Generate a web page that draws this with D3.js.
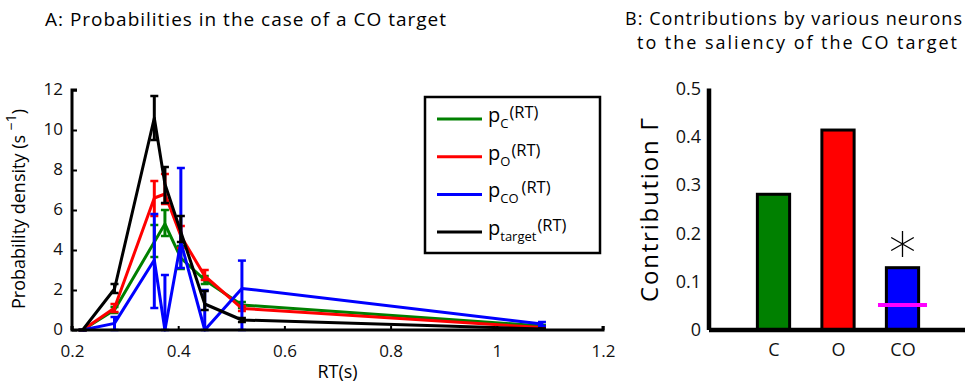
<!DOCTYPE html>
<html>
<head>
<meta charset="utf-8">
<script src="https://cdn.jsdelivr.net/npm/d3@7/dist/d3.min.js"></script>
<style>
  body { margin: 0; background: #fff; }
  svg { display: block; font-family: "Open Sans", "DejaVu Sans", sans-serif; }
</style>
</head>
<body>
<svg id="chart" width="965" height="385"></svg>
<script>
// ---------- Data: panel A ----------
const rt = [0.22, 0.28, 0.355, 0.375, 0.405, 0.45, 0.52, 1.085];

const pC    = [0, 1.0, 4.4, 5.3, 3.6, 2.5, 1.25, 0.2];
const pC_lo = [0, 0.85, 3.65, 4.7, 3.05, 2.3, 1.1, 0.15];
const pC_hi = [0, 1.15, 5.25, 6.0, 4.2, 2.7, 1.4, 0.25];

const pO    = [0, 1.1, 6.6, 6.8, 4.7, 2.7, 1.08, 0.12];
const pO_lo = [0, 0.9, 5.7, 6.3, 4.1, 2.5, 0.95, 0.08];
const pO_hi = [0, 1.3, 7.45, 7.8, 5.2, 3.0, 1.2, 0.16];

const pCO    = [0, 0.33, 3.5, 0, 4.4, 0, 2.08, 0.3];
const pCO_lo = [0, 0, 1.1, 0, 3.1, 0, 0, 0.2];
const pCO_hi = [0, 0.65, 5.8, 2.75, 8.1, 2.0, 3.47, 0.4];

const pT    = [0, 2.05, 10.6, 7.3, 4.9, 1.3, 0.5, 0.05];
const pT_lo = [0, 1.85, 9.5, 6.35, 4.4, 1.0, 0.4, 0.02];
const pT_hi = [0, 2.3, 11.7, 8.15, 5.7, 1.95, 0.6, 0.08];

const seriesNames = ["C", "O", "CO", "target"];
const seriesColors = ["#008000", "#ff0000", "#0000ff", "#000000"];

const xTicksA = [0.2, 0.4, 0.6, 0.8, 1, 1.2];
const yTicksA = [0, 2, 4, 6, 8, 10, 12];

// ---------- Data: panel B ----------
const catsB = ["C", "O", "CO"];
const valsB = [0.281, 0.414, 0.129];
const colorsB = ["#008000", "#ff0000", "#0000ff"];
const shuffleLevelCO = 0.052;
const starValue = 0.178;
const yTicksB = [0, 0.1, 0.2, 0.3, 0.4, 0.5];

// ---------- Build ----------
const svg = d3.select("#chart");

// Panel A
const xA = d3.scaleLinear().domain([0.2, 1.2]).range([72, 603]);
const yA = d3.scaleLinear().domain([0, 12]).range([330, 90]);

const series = [
  {v: pC, lo: pC_lo, hi: pC_hi},
  {v: pO, lo: pO_lo, hi: pO_hi},
  {v: pCO, lo: pCO_lo, hi: pCO_hi},
  {v: pT, lo: pT_lo, hi: pT_hi}
].map((s, i) => ({...s, name: seriesNames[i], color: seriesColors[i]}));

svg.append("text").attr("x", 45).attr("y", 26).attr("font-size", 19)
  .attr("textLength", 401).attr("lengthAdjust", "spacing")
  .text("A:  Probabilities in the case of a CO target");

const line = d3.line().x((d) => xA(d[0])).y((d) => yA(d[1]));
const gA = svg.append("g");
series.forEach((s) => {
  const pts = rt.map((r, i) => [r, s.v[i]]);
  const g = gA.append("g");
  g.append("path").attr("d", line(pts)).attr("fill", "none")
    .attr("stroke", s.color).attr("stroke-width", 3).attr("stroke-linejoin", "round");
  const eb = g.selectAll("g.eb").data(rt.map((r, i) => ({r, lo: s.lo[i], hi: s.hi[i]})))
    .join("g");
  eb.append("line").attr("x1", (d) => xA(d.r)).attr("x2", (d) => xA(d.r))
    .attr("y1", (d) => yA(d.lo)).attr("y2", (d) => yA(d.hi))
    .attr("stroke", s.color).attr("stroke-width", 3);
  ["lo", "hi"].forEach((k) => {
    eb.append("line").attr("x1", (d) => xA(d.r) - 4).attr("x2", (d) => xA(d.r) + 4)
      .attr("y1", (d) => yA(d[k])).attr("y2", (d) => yA(d[k]))
      .attr("stroke", s.color).attr("stroke-width", 2.5);
  });
});

const axA_x = svg.append("g").attr("transform", `translate(0,${yA(0)})`)
  .call(d3.axisBottom(xA).tickValues(xTicksA).tickSize(-4).tickPadding(15)
    .tickFormat(d3.format("~g")));
const axA_y = svg.append("g").attr("transform", `translate(${xA(0.2)},0)`)
  .call(d3.axisLeft(yA).tickValues(yTicksA).tickSize(-5).tickPadding(9));
[axA_x, axA_y].forEach((ax) => {
  ax.select(".domain").attr("stroke", "#000").attr("stroke-width", 3);
  ax.selectAll(".tick line").attr("stroke", "#000").attr("stroke-width", 2);
  ax.selectAll(".tick text").attr("font-size", 17).attr("font-family", "Open Sans").attr("fill", "#111");
});
axA_y.selectAll(".tick text").attr("dy", "0.28em");
axA_x.select(".domain").attr("d", `M${xA(0.2)},-4V0H${xA(1.2)}V-4`);
axA_y.select(".domain").attr("d", `M5,${yA(12)}H0V${yA(0)}`);

svg.append("text").attr("x", xA(0.7)).attr("y", 378).attr("text-anchor", "middle")
  .attr("font-size", 18).text("RT(s)");

const ylab = svg.append("text").attr("transform", `translate(25,${yA(6) - 1}) rotate(-90)`)
  .attr("text-anchor", "middle").attr("font-size", 18);
ylab.append("tspan").text("Probability density (s ");
ylab.append("tspan").attr("baseline-shift", "super").attr("font-size", 14).text("\u22121");
ylab.append("tspan").text(")");

// Legend
const lg = svg.append("g");
lg.append("rect").attr("x", 425).attr("y", 97).attr("width", 175).attr("height", 156)
  .attr("fill", "#fff").attr("stroke", "#000").attr("stroke-width", 2.5);
series.forEach((s, i) => {
  const y = 119 + i * 37.7;
  lg.append("line").attr("x1", 437).attr("x2", 482).attr("y1", y).attr("y2", y)
    .attr("stroke", s.color).attr("stroke-width", 3);
  const t = lg.append("text").attr("x", 488).attr("y", y + 3).attr("font-size", 20);
  t.append("tspan").text("p");
  t.append("tspan").attr("font-size", 13).attr("dy", 6).text(s.name);
  t.append("tspan").attr("font-size", 16.5).attr("dy", -10).attr("dx", s.name === "CO" ? 3 : 1).text("(RT)");
});

// Panel B
const xB = d3.scaleLinear().domain([0, 4]).range([709, 967]);
const yB = d3.scaleLinear().domain([0, 0.5]).range([330, 88.5]);
const bw = xB(0.5) - xB(0);

const titleB = svg.append("text").attr("font-size", 18);
titleB.append("tspan").attr("x", 625).attr("y", 25).attr("textLength", 337)
  .attr("lengthAdjust", "spacing").text("B:  Contributions by various neurons");
titleB.append("tspan").attr("x", 637).attr("y", 49).attr("textLength", 320)
  .attr("lengthAdjust", "spacing").text("to the saliency of the CO  target");

svg.append("g").selectAll("rect").data(catsB).join("rect")
  .attr("x", (d, i) => xB(i + 1) - bw / 2).attr("width", bw)
  .attr("y", (d, i) => yB(valsB[i])).attr("height", (d, i) => yB(0) - yB(valsB[i]))
  .attr("fill", (d, i) => colorsB[i]).attr("stroke", "#000").attr("stroke-width", 3);

const magHalf = (xB(0.5) - xB(0)) * 0.76;
svg.append("line").attr("x1", xB(3) - magHalf).attr("x2", xB(3) + magHalf)
  .attr("y1", yB(shuffleLevelCO)).attr("y2", yB(shuffleLevelCO))
  .attr("stroke", "#ff00ff").attr("stroke-width", 4);

svg.append("path").attr("d", d3.symbol(d3.symbolAsterisk, 480)())
  .attr("transform", `translate(${xB(3)},${yB(starValue)})`)
  .attr("fill", "none").attr("stroke", "#000").attr("stroke-width", 1.3);

const axB_y = svg.append("g").attr("transform", `translate(${xB(0)},0)`)
  .call(d3.axisLeft(yB).tickValues(yTicksB).tickSize(0).tickPadding(8).tickFormat(d3.format("~g")));
const axB_x = svg.append("g").attr("transform", `translate(0,${yB(0)})`)
  .call(d3.axisBottom(xB).tickValues([1, 2, 3]).tickSize(0).tickPadding(13)
    .tickFormat((d) => catsB[d - 1]));
[axB_x, axB_y].forEach((ax) => {
  ax.select(".domain").attr("stroke", "#000").attr("stroke-width", 4.5);
  ax.selectAll(".tick text").attr("font-size", 18).attr("font-family", "Open Sans").attr("fill", "#111");
});
axB_y.select(".domain").attr("d", `M0,${yB(0.5)}V${yB(0)}`);
axB_x.select(".domain").attr("d", `M${xB(0)},0H${xB(4)}`);

svg.append("text").attr("transform", `translate(658,210) rotate(-90)`)
  .attr("text-anchor", "middle").attr("font-size", 24)
  .attr("textLength", 184).attr("lengthAdjust", "spacing").text("Contribution \u0393");
</script>
</body>
</html>
